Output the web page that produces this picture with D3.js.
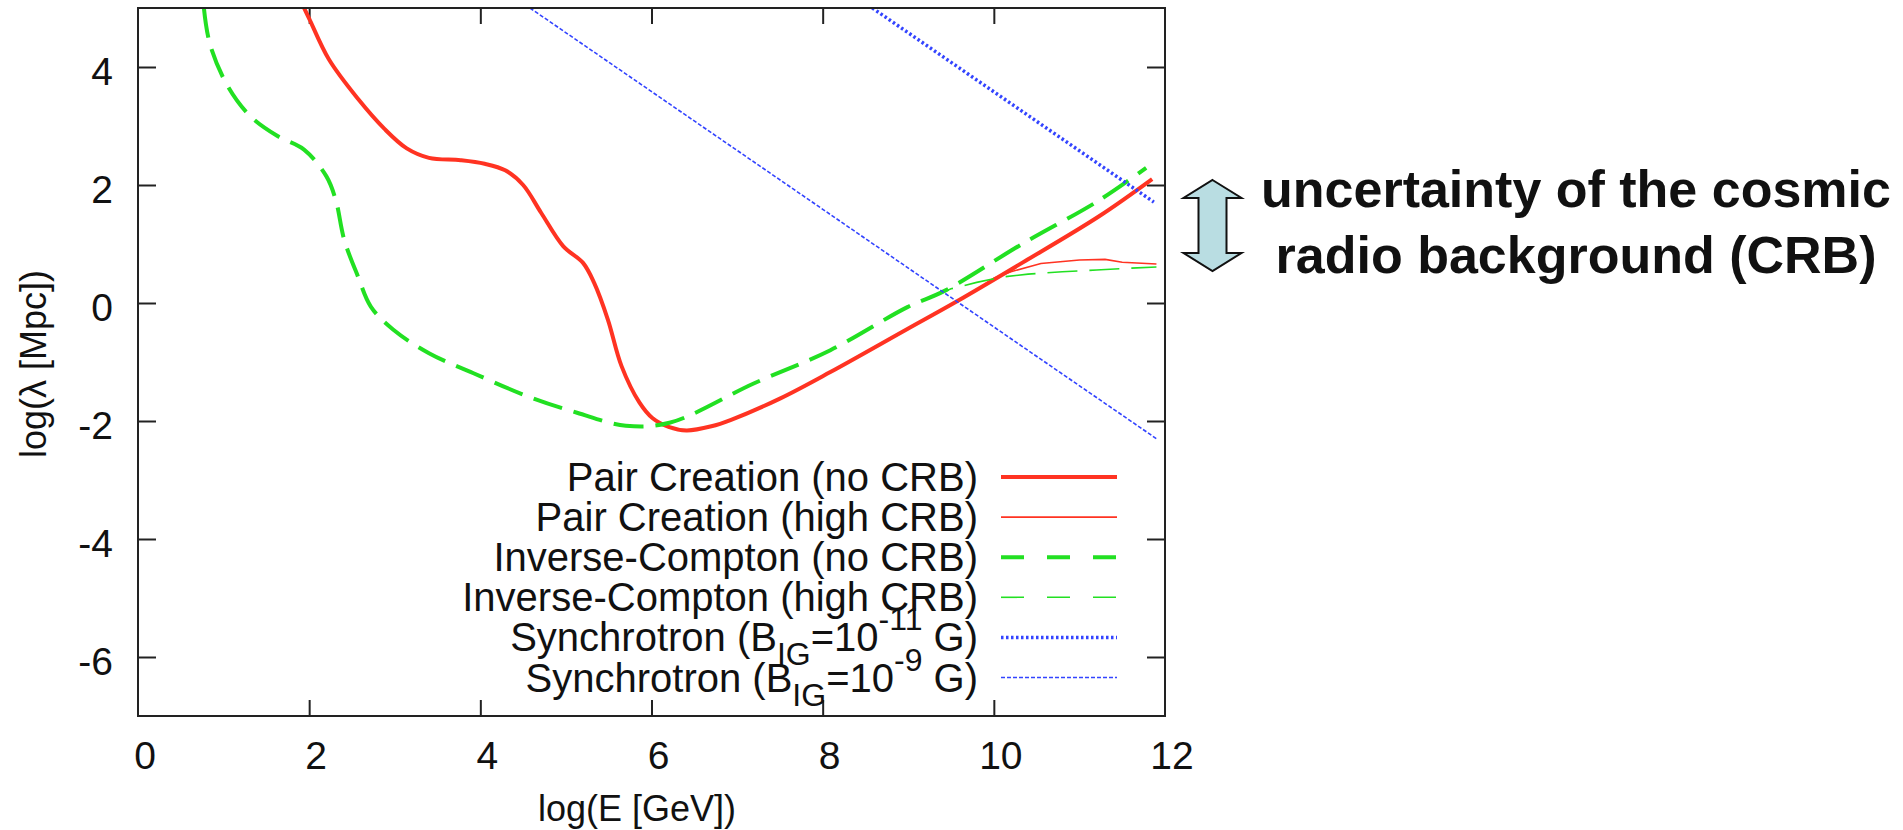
<!DOCTYPE html>
<html>
<head>
<meta charset="utf-8">
<script src="https://cdn.jsdelivr.net/npm/d3@7"></script>
<style>
  html, body { margin: 0; padding: 0; background: #fff; }
  svg { display: block; }
  text { font-family: "Liberation Sans", Arial, sans-serif; fill: #111; }
</style>
</head>
<body>
<div id="chart"></div>
<script>
// log(E [GeV]) vs log(lambda [Mpc])
const pairNoCrbE = [1.94, 2.0, 2.23, 2.57, 2.88, 3.14, 3.40, 3.77, 4.05, 4.29, 4.50, 4.71, 4.97, 5.20, 5.33, 5.49, 5.65, 5.86, 6.01, 6.2, 6.41, 6.7, 6.93, 7.5, 8.09, 8.99, 9.57, 10.33, 11.23, 11.85];
const pairNoCrbL = [5.0, 4.82, 4.13, 3.46, 2.95, 2.62, 2.46, 2.42, 2.36, 2.25, 2.0, 1.53, 0.96, 0.68, 0.34, -0.28, -1.07, -1.69, -1.95, -2.1, -2.16, -2.09, -1.98, -1.62, -1.17, -0.44, 0.03, 0.68, 1.47, 2.1];

const pairHighCrbE = [9.8, 10.0, 10.2, 10.55, 11.0, 11.3, 11.5, 11.9];
const pairHighCrbL = [0.22, 0.42, 0.53, 0.67, 0.73, 0.74, 0.69, 0.66];

const icNoCrbE = [0.77, 0.84, 1.05, 1.31, 1.63, 1.94, 2.20, 2.31, 2.41, 2.57, 2.72, 2.98, 3.40, 3.92, 4.55, 5.13, 5.70, 6.21, 7.2, 8.09, 8.99, 9.43, 10.33, 11.23, 11.78];
const icNoCrbL = [5.0, 4.39, 3.67, 3.17, 2.83, 2.6, 2.15, 1.75, 1.07, 0.45, -0.06, -0.45, -0.85, -1.19, -1.58, -1.86, -2.08, -2.03, -1.36, -0.8, -0.07, 0.21, 1.0, 1.74, 2.29];

const icHighCrbE = [9.2, 9.5, 9.8, 10.1, 10.4, 10.8, 11.2, 11.6, 11.9];
const icHighCrbL = [0.05, 0.24, 0.35, 0.44, 0.49, 0.53, 0.56, 0.59, 0.61];

const syncLowBE = [8.58, 11.87];
const syncLowBL = [5.0, 1.71];

const syncHighBE = [4.58, 11.9];
const syncHighBL = [5.0, -2.3];

const xTicks = [0, 2, 4, 6, 8, 10, 12];
const yTicks = [-6, -4, -2, 0, 2, 4];

const series = [
  {e: pairNoCrbE, l: pairNoCrbL, color: '#ff3322', width: 4, dash: null, keyDash: null, curve: d3.curveCatmullRom,
   label: [{t: 'Pair Creation (no CRB)'}]},
  {e: pairHighCrbE, l: pairHighCrbL, color: '#ff3322', width: 1.6, dash: null, keyDash: null, curve: d3.curveLinear,
   label: [{t: 'Pair Creation (high CRB)'}]},
  {e: icNoCrbE, l: icNoCrbL, color: '#22e022', width: 4, dash: '30,12', keyDash: '23,23', curve: d3.curveCatmullRom,
   label: [{t: 'Inverse-Compton (no CRB)'}]},
  {e: icHighCrbE, l: icHighCrbL, color: '#22e022', width: 1.6, dash: '30,12', keyDash: '23,23', curve: d3.curveLinear,
   label: [{t: 'Inverse-Compton (high CRB)'}]},
  {e: syncLowBE, l: syncLowBL, color: '#3344ff', width: 3.5, dash: '2.5,2.5', keyDash: '2.5,2.5', curve: d3.curveLinear,
   label: [{t: 'Synchrotron (B'}, {t: 'IG', sub: true}, {t: '=10', back: true}, {t: '-11', sup: true}, {t: ' G)', down: true}]},
  {e: syncHighBE, l: syncHighBL, color: '#3344ff', width: 1.6, dash: '4,2', keyDash: '4,2', curve: d3.curveLinear,
   label: [{t: 'Synchrotron (B'}, {t: 'IG', sub: true}, {t: '=10', back: true}, {t: '-9', sup: true}, {t: ' G)', down: true}]}
];

const W = 1903, H = 830;
const plot = {left: 138, right: 1165, top: 8, bottom: 716};

const svg = d3.select('#chart').append('svg')
  .attr('width', W)
  .attr('height', H);

svg.append('rect').attr('width', W).attr('height', H).attr('fill', '#fff');

const x = d3.scaleLinear().domain([0, 12]).range([plot.left, plot.right]);
const y = d3.scaleLinear().domain([-7, 5]).range([plot.bottom, plot.top]);

svg.append('clipPath').attr('id', 'plotClip')
  .append('rect')
  .attr('x', plot.left).attr('y', plot.top)
  .attr('width', plot.right - plot.left).attr('height', plot.bottom - plot.top);

// Axes: ticks point inward, mirrored on top / right like gnuplot
const axisStyle = g => {
  g.select('.domain').remove();
  g.selectAll('.tick line').attr('stroke', '#222').attr('stroke-width', 2);
};

svg.append('g')
  .attr('transform', `translate(0,${plot.bottom})`)
  .call(d3.axisBottom(x).tickValues(xTicks.slice(1, -1)).tickSizeInner(-16).tickFormat(''))
  .call(axisStyle);
svg.append('g')
  .attr('transform', `translate(0,${plot.top})`)
  .call(d3.axisTop(x).tickValues(xTicks.slice(1, -1)).tickSizeInner(-16).tickFormat(''))
  .call(axisStyle);
svg.append('g')
  .attr('transform', `translate(${plot.left},0)`)
  .call(d3.axisLeft(y).tickValues(yTicks).tickSizeInner(-18).tickFormat(''))
  .call(axisStyle);
svg.append('g')
  .attr('transform', `translate(${plot.right},0)`)
  .call(d3.axisRight(y).tickValues(yTicks).tickSizeInner(-18).tickFormat(''))
  .call(axisStyle);

// tick labels
svg.append('g').selectAll('text')
  .data(xTicks)
  .enter().append('text')
  .attr('x', d => x(d) + 7)
  .attr('y', 769)
  .attr('text-anchor', 'middle')
  .attr('font-size', 39)
  .text(d => d);

svg.append('g').selectAll('text')
  .data(yTicks)
  .enter().append('text')
  .attr('x', 113)
  .attr('y', d => y(d) + 18)
  .attr('text-anchor', 'end')
  .attr('font-size', 39)
  .text(d => d);

// axis titles
svg.append('text')
  .attr('x', 637)
  .attr('y', 821)
  .attr('text-anchor', 'middle')
  .attr('font-size', 36)
  .text('log(E [GeV])');

svg.append('text')
  .attr('transform', 'translate(46,364) rotate(-90)')
  .attr('text-anchor', 'middle')
  .attr('font-size', 36)
  .text('log(\u03bb [Mpc])');

// curves
const curves = svg.append('g').attr('clip-path', 'url(#plotClip)');
series.forEach(s => {
  const pts = s.e.map((e, i) => [e, s.l[i]]);
  curves.append('path')
    .datum(pts)
    .attr('fill', 'none')
    .attr('stroke', s.color)
    .attr('stroke-width', s.width)
    .attr('stroke-dasharray', s.dash)
    .attr('d', d3.line().x(d => x(d[0])).y(d => y(d[1])).curve(s.curve));
});

// frame
svg.append('rect')
  .attr('x', plot.left).attr('y', plot.top)
  .attr('width', plot.right - plot.left).attr('height', plot.bottom - plot.top)
  .attr('fill', 'none')
  .attr('stroke', '#222')
  .attr('stroke-width', 2);

// legend
const legend = svg.append('g');
series.forEach((s, i) => {
  const ly = 477 + i * 40.1;
  const t = legend.append('text')
    .attr('x', 978)
    .attr('y', ly + 14)
    .attr('text-anchor', 'end')
    .attr('font-size', 40);
  s.label.forEach(p => {
    const ts = t.append('tspan').text(p.t);
    if (p.sub) ts.attr('font-size', 32).attr('dy', 14);
    if (p.back) ts.attr('dy', -14);
    if (p.sup) ts.attr('font-size', 32).attr('dy', -21);
    if (p.down) ts.attr('dy', 21);
  });
  legend.append('line')
    .attr('x1', 1001).attr('x2', 1117)
    .attr('y1', ly).attr('y2', ly)
    .attr('stroke', s.color)
    .attr('stroke-width', s.width)
    .attr('stroke-dasharray', s.keyDash);
});

// CRB annotation: double arrow + text
const ax = 1212.5, aTop = 180, aBot = 271, headH = 18, headW = 29, shaftW = 14;
const arrowPts = [
  [ax, aTop], [ax + headW, aTop + headH], [ax + shaftW, aTop + headH],
  [ax + shaftW, aBot - headH], [ax + headW, aBot - headH], [ax, aBot],
  [ax - headW, aBot - headH], [ax - shaftW, aBot - headH],
  [ax - shaftW, aTop + headH], [ax - headW, aTop + headH]
];
svg.append('path')
  .attr('d', d3.line()(arrowPts) + 'Z')
  .attr('fill', '#b9dde2')
  .attr('stroke', '#111')
  .attr('stroke-width', 2);

const note = svg.append('text')
  .attr('text-anchor', 'middle')
  .attr('font-size', 52)
  .attr('font-weight', 'bold');
note.append('tspan').attr('x', 1576).attr('y', 207).text('uncertainty of the cosmic');
note.append('tspan').attr('x', 1576).attr('y', 273).text('radio background (CRB)');
</script>
</body>
</html>
